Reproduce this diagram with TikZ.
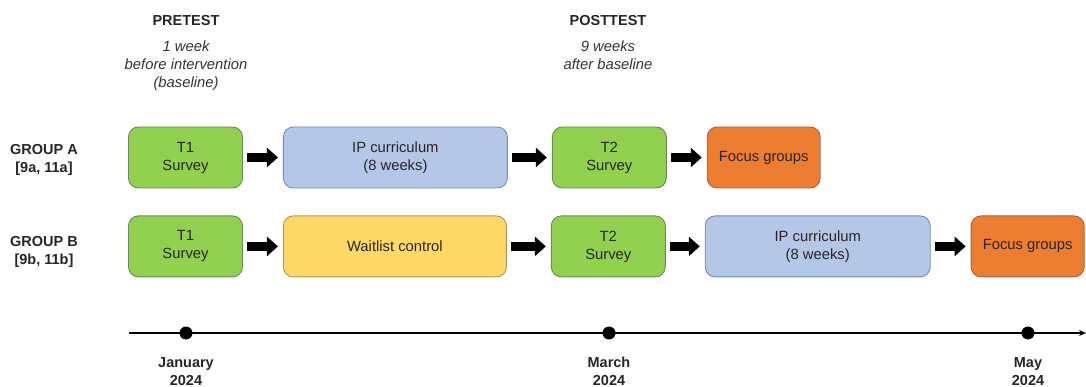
\documentclass[tikz,border=0pt]{standalone}
\usepackage{fontspec}
\setmainfont{Liberation Sans}
\usepackage{tikz}
\usetikzlibrary{arrows.meta,positioning}
\definecolor{surveyGreen}{RGB}{146,208,80}
\definecolor{surveyLine}{RGB}{104,140,84}
\definecolor{ipBlue}{RGB}{180,199,231}
\definecolor{ipLine}{RGB}{112,140,186}
\definecolor{waitYellow}{RGB}{255,217,102}
\definecolor{waitLine}{RGB}{170,150,100}
\definecolor{focusOrange}{RGB}{237,125,49}
\definecolor{focusLine}{RGB}{160,100,70}
\tikzstyle{boxNode} = [rectangle, minimum height=61pt, inner sep=0pt, text centered, align=center, rounded corners=10pt, line width=0.9pt, font=\fontsize{14.8}{18}\selectfont, text=black!85]
\tikzstyle{surveyNode} = [boxNode, minimum width=114pt, fill=surveyGreen, draw=surveyLine]
\tikzstyle{ipNode} = [boxNode, minimum width=224pt, fill=ipBlue, draw=ipLine]
\tikzstyle{waitNode} = [boxNode, minimum width=223pt, fill=waitYellow, draw=waitLine]
\tikzstyle{focusNode} = [boxNode, minimum width=113pt, fill=focusOrange, draw=focusLine]
\tikzstyle{headNode} = [align=center, inner sep=0pt, font=\bfseries\fontsize{14.5}{18}\selectfont, text=black!85]
\tikzstyle{noteNode} = [align=center, inner sep=0pt, font=\itshape\fontsize{14.8}{18}\selectfont, text=black!80]
\tikzstyle{dotNode} = [circle, fill=black, minimum size=13pt, inner sep=0pt]
\tikzstyle{blockArrow} = [line width=9pt, -{Triangle[length=11pt,width=19pt]}, shorten <=4pt, shorten >=5pt]
\tikzstyle{timeArrow} = [line width=1.4pt, -{Stealth[length=7pt,width=6pt]}]

\begin{document}
\begin{tikzpicture}[x=1pt, y=-1pt, node distance=40pt]
    \useasboundingbox (0,0) rectangle (1086,387);

    % column headers
    \node (pre) [headNode] at (186,21) {PRETEST};
    \node (preNote) [noteNode] at (186,66) {1 week\strut\\before intervention\strut\\(baseline)\strut};
    \node (post) [headNode] at (608,21) {POSTTEST};
    \node (postNote) [noteNode] at (608,57) {9 weeks\strut\\after baseline\strut};

    % group A
    \node (grpA) [headNode] at (44,160) {GROUP A\strut\\{[}9a, 11a{]}\strut};
    \node (t1a) [surveyNode] at (185.5,157.5) {T1\\Survey};
    \node (ipa) [ipNode, right=of t1a] {IP curriculum\\(8 weeks)};
    \node (t2a) [surveyNode, right=44pt of ipa] {T2\\Survey};
    \node (foca) [focusNode, right=of t2a] {Focus groups};

    % group B
    \node (grpB) [headNode] at (44,252) {GROUP B\strut\\{[}9b, 11b{]}\strut};
    \node (t1b) [surveyNode, below=27pt of t1a] {T1\\Survey};
    \node (wait) [waitNode, right=of t1b] {Waitlist control};
    \node (t2b) [surveyNode, right=44pt of wait] {T2\\Survey};
    \node (ipb) [ipNode, right=39pt of t2b, minimum width=225pt] {IP curriculum\\(8 weeks)};
    \node (focb) [focusNode, right=of ipb] {Focus groups};

    \draw [blockArrow] (t1a) -- (ipa);
    \draw [blockArrow] (ipa) -- (t2a);
    \draw [blockArrow] (t2a) -- (foca);
    \draw [blockArrow] (t1b) -- (wait);
    \draw [blockArrow] (wait) -- (t2b);
    \draw [blockArrow] (t2b) -- (ipb);
    \draw [blockArrow] (ipb) -- (focb);

    % timeline
    \coordinate (tlStart) at (129,333);
    \coordinate (tlEnd) at (1086,333);
    \draw [timeArrow] (tlStart) -- (tlEnd);
    \node (janDot) [dotNode] at (186,333) {};
    \node (marDot) [dotNode] at (609,333) {};
    \node (mayDot) [dotNode] at (1028,333) {};
    \node (jan) [headNode] at (186,372.5) {January\strut\\2024\strut};
    \node (mar) [headNode] at (609,372.5) {March\strut\\2024\strut};
    \node (may) [headNode] at (1028,372.5) {May\strut\\2024\strut};
\end{tikzpicture}
\end{document}
